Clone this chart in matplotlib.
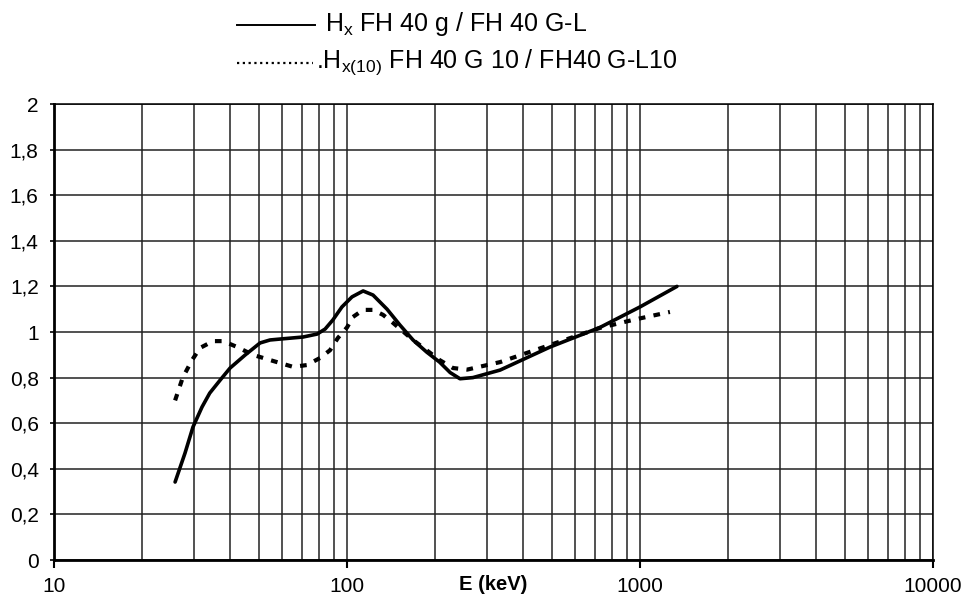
import matplotlib
matplotlib.use("Agg")
import matplotlib.pyplot as plt
from matplotlib.lines import Line2D
from matplotlib.ticker import LogLocator, NullFormatter

plt.rcParams['font.family'] = ['Liberation Sans', 'DejaVu Sans']
plt.rcParams['mathtext.default'] = 'regular'

# Werte (E in keV, relative Anzeige)
e_hx = [25.9, 28.0, 29.8, 32.0, 34.0, 36.9, 39.9, 44.9, 50.5, 54.6, 59, 70.8, 79.1,
        84.2, 89.5, 96.1, 104, 113.5, 122.7, 137, 151.7, 168, 187, 207, 225, 243,
        269, 333, 493, 730, 1000, 1337]
hx = [0.342, 0.469, 0.583, 0.671, 0.732, 0.789, 0.842, 0.899, 0.952, 0.965, 0.969,
      0.978, 0.991, 1.013, 1.053, 1.11, 1.154, 1.18, 1.162, 1.10, 1.03, 0.965,
      0.912, 0.868, 0.822, 0.795, 0.80, 0.833, 0.934, 1.02, 1.11, 1.20]

e_hx10 = [25.9, 27.5, 29.6, 31.5, 34.9, 37.8, 42.2, 47.7, 54.6, 65.5, 72.9, 80.9,
          87.5, 93.1, 100, 104.8, 113.5, 122.7, 132.8, 143.6, 168, 187, 207, 230,
          257, 333, 493, 730, 946, 1265]
hx10 = [0.70, 0.80, 0.877, 0.93, 0.96, 0.96, 0.934, 0.90, 0.877, 0.847, 0.855,
        0.886, 0.92, 0.974, 1.02, 1.066, 1.097, 1.097, 1.075, 1.04, 0.965, 0.92,
        0.877, 0.842, 0.835, 0.868, 0.943, 1.018, 1.053, 1.088]

y_ticks = [0, 0.2, 0.4, 0.6, 0.8, 1.0, 1.2, 1.4, 1.6, 1.8, 2.0]
y_labels = ['0', '0,2', '0,4', '0,6', '0,8', '1', '1,2', '1,4', '1,6', '1,8', '2']
x_ticks = [10, 100, 1000, 10000]
x_labels = ['10', '100', '1000', '10000']
label_hx = r'$H_x$ FH 40 g / FH 40 G-L'
label_hx10 = r'.$H_{x(10)}$ FH 40 G 10 / FH40 G-L10'

W, H = 962, 597
fig = plt.figure(figsize=(W / 100, H / 100), dpi=100)
ax = fig.add_axes([54 / W, 1 - 560 / H, (933 - 54) / W, (560 - 104) / H])

ax.plot(e_hx, hx, color='black', lw=2.6, solid_capstyle='round')
ax.plot(e_hx10, hx10, color='black', lw=3.0, linestyle=(0, (1.6, 2.0)))

ax.set_xscale('log')
ax.set_xlim(10, 10000)
ax.set_ylim(0, 2)

ax.set_xticks(x_ticks)
ax.set_xticklabels(x_labels)
ax.xaxis.set_minor_locator(LogLocator(base=10, subs=range(2, 10)))
ax.xaxis.set_minor_formatter(NullFormatter())
ax.set_yticks(y_ticks)
ax.set_yticklabels(y_labels)

ax.grid(True, which='both', axis='x', color='#222222', lw=1.1)
ax.grid(True, which='major', axis='y', color='#222222', lw=1.1)
ax.set_axisbelow(True)

ax.tick_params(axis='x', which='major', direction='out', length=6, width=1.5,
               labelsize=15, pad=6)
ax.tick_params(axis='x', which='minor', length=0)
ax.tick_params(axis='y', direction='out', length=3, width=1.2, labelsize=15, pad=8)

for side in ['left', 'bottom']:
    ax.spines[side].set_linewidth(2)
for side in ['top', 'right']:
    ax.spines[side].set_linewidth(1.1)

fig.text(493 / W, 1 - 585 / H, 'E (keV)', ha='center', va='center',
         fontsize=14.5, fontweight='bold')

# Legende von Hand, wie im Original
fig.add_artist(Line2D([237 / W, 315 / W], [1 - 25 / H] * 2, color='black', lw=1.4))
fig.add_artist(Line2D([237 / W, 313 / W], [1 - 63 / H] * 2, color='black', lw=1.6,
                      linestyle=(0, (1, 1.6))))
fig.text(325 / W, 1 - 31 / H, label_hx, ha='left', va='baseline', fontsize=18)
fig.text(316 / W, 1 - 68 / H, label_hx10, ha='left', va='baseline', fontsize=18)

fig.savefig('out.png', dpi=100)
